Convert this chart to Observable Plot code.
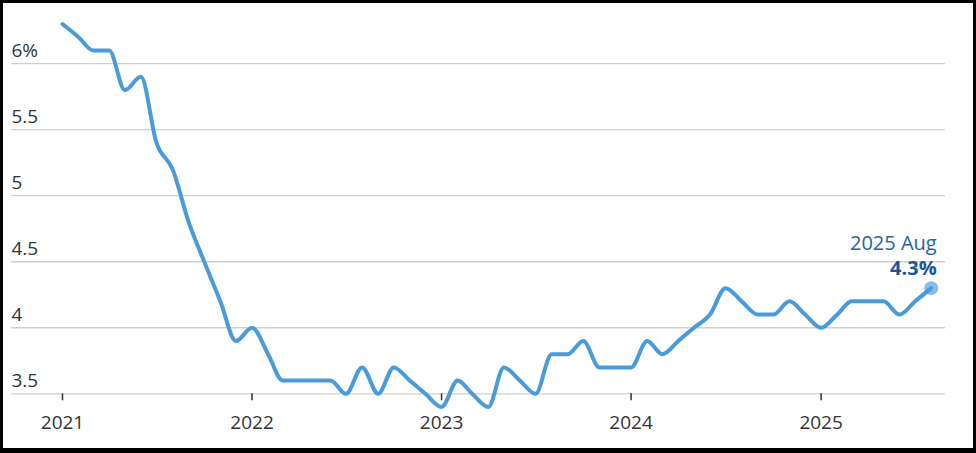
<!DOCTYPE html>
<html>
<head>
<meta charset="utf-8">
<script src="https://cdn.jsdelivr.net/npm/d3@7"></script>
<script src="https://cdn.jsdelivr.net/npm/@observablehq/plot@0.6"></script>
<style>
  html, body { margin: 0; padding: 0; background: #000; }
  #frame { position: absolute; left: 3px; top: 3px; width: 970px; height: 445px; background: #fff; overflow: visible; }
</style>
</head>
<body>
<div id="frame"></div>
<script>
// Monthly unemployment rate (%) by year, January onward
const rate2021 = [6.3, 6.2, 6.1, 6.1, 5.8, 5.9, 5.4, 5.2, 4.8, 4.5, 4.2, 3.9];
const rate2022 = [4.0, 3.8, 3.6, 3.6, 3.6, 3.6, 3.5, 3.7, 3.5, 3.7, 3.6, 3.5];
const rate2023 = [3.4, 3.6, 3.5, 3.4, 3.7, 3.6, 3.5, 3.8, 3.8, 3.9, 3.7, 3.7];
const rate2024 = [3.7, 3.9, 3.8, 3.9, 4.0, 4.1, 4.3, 4.2, 4.1, 4.1, 4.2, 4.1];
const rate2025 = [4.0, 4.1, 4.2, 4.2, 4.2, 4.1, 4.2, 4.3];
const years = [2021, 2022, 2023, 2024, 2025];
const yTicks = [3.5, 4, 4.5, 5, 5.5, 6];
const yTickLabels = ["3.5", "4", "4.5", "5", "5.5", "6%"];
const xTickYears = [2021, 2022, 2023, 2024, 2025];
const lastPeriodLabel = "2025 Aug";
const lastValueLabel = "4.3%";

const series = [rate2021, rate2022, rate2023, rate2024, rate2025];
const data = [];
series.forEach((vals, i) => {
  vals.forEach((v, m) => data.push({date: new Date(Date.UTC(years[i], m, 1)), rate: v}));
});
const last = data[data.length - 1];
const xTicks = xTickYears.map(y => new Date(Date.UTC(y, 0, 1)));

const lineColor = "#4a9bdb";

const chart = Plot.plot({
  width: 970,
  height: 445,
  marginLeft: 59,
  marginRight: 42.3,
  marginTop: 20.5,
  marginBottom: 54.7,
  style: {fontFamily: "'Open Sans', Lato, sans-serif", fontSize: "19px", color: "#333", background: "#fff", overflow: "visible"},
  x: {type: "utc", domain: [data[0].date, last.date], axis: null},
  y: {domain: [3.5, 6.3], axis: null},
  marks: [
    Plot.ruleY(yTicks, {y: d => d, stroke: "#d0d0d0", strokeWidth: 1.3, insetLeft: -51, insetRight: -14.3}),
    Plot.text(yTicks, {y: d => d, text: (d, i) => yTickLabels[i], frameAnchor: "left", textAnchor: "start", lineAnchor: "bottom", dx: -51, dy: -6.5, fill: "#333", fontSize: 19}),
    Plot.axisX({ticks: xTicks, tickFormat: d3.utcFormat("%Y"), tickSize: 7, tickPadding: 15, fontSize: 19, strokeWidth: 1.5, stroke: "#333", fill: "#333", anchor: "bottom"}),
    Plot.line(data, {x: "date", y: "rate", curve: "monotone-x", stroke: lineColor, strokeWidth: 4, strokeLinejoin: "round", strokeLinecap: "round"}),
    Plot.dot([last], {x: "date", y: "rate", r: 7, fill: lineColor, fillOpacity: 0.65, stroke: "none"}),
    Plot.text([last], {x: "date", y: "rate", text: () => lastPeriodLabel, textAnchor: "end", lineAnchor: "bottom", dx: 5.5, dy: -38.5, fill: "#2366a8", fontSize: 20}),
    Plot.text([last], {x: "date", y: "rate", text: () => lastValueLabel, textAnchor: "end", lineAnchor: "bottom", dx: 5.5, dy: -13.5, fill: "#1b5593", fontSize: 20, fontWeight: 700})
  ]
});
document.getElementById("frame").appendChild(chart);
</script>
</body>
</html>
